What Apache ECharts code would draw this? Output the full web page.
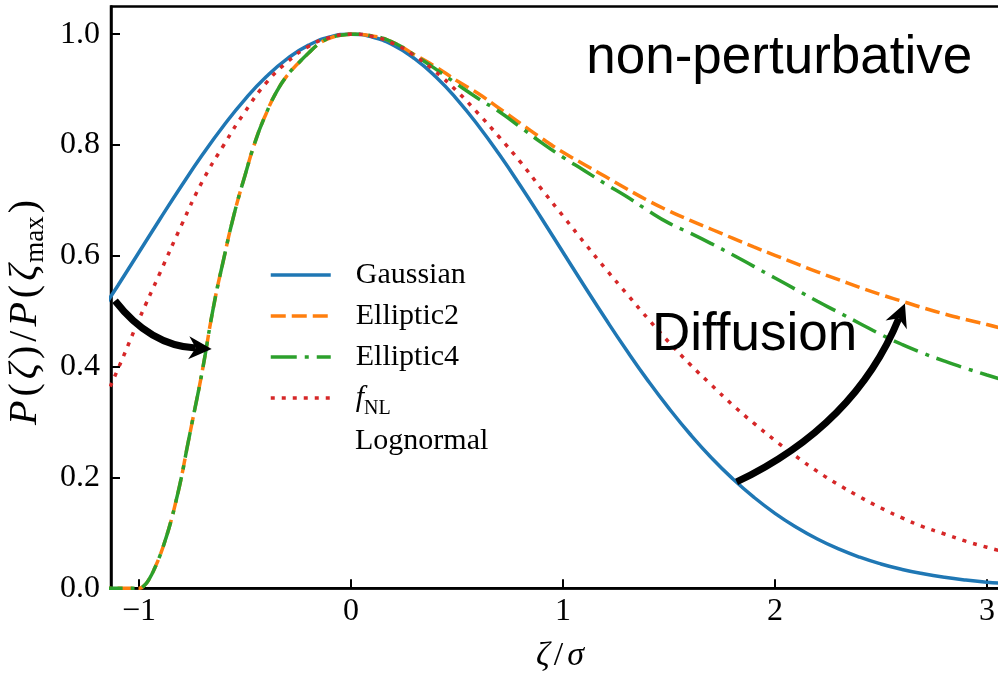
<!DOCTYPE html>
<html><head><meta charset="utf-8">
<script src="https://cdn.jsdelivr.net/npm/echarts@6/dist/echarts.min.js"></script>
<style>html,body{margin:0;padding:0;background:#fff}#c{width:998px;height:674px}</style>
</head><body><div id="c"></div>
<script>
// ---- data ----
const xGrid = [-1.2,-1.1,-1.0,-0.9,-0.8,-0.7,-0.6,-0.5,-0.4,-0.3,-0.2,-0.1,0,
  0.1,0.2,0.3,0.4,0.5,0.6,0.7,0.8,0.9,1.0,1.1,1.2,1.3,1.4,1.5,1.6,1.7,1.8,1.9,2.0,
  2.1,2.2,2.3,2.4,2.5,2.6,2.7,2.8,2.9,3.0,3.1];
const yGauss = [0.4868,0.5461,0.6065,0.6670,0.7261,0.7827,0.8353,0.8825,0.9231,0.9560,0.9802,0.9950,1.0,
  0.9950,0.9802,0.9560,0.9231,0.8825,0.8353,0.7827,0.7261,0.6670,0.6065,0.5461,0.4868,0.4296,0.3753,0.3247,
  0.2780,0.2357,0.1979,0.1645,0.1353,0.1103,0.0889,0.0710,0.0561,0.0439,0.0340,0.0261,0.0198,0.0149,0.0111,0.0082];
const yFnl = [0.31,0.395,0.485,0.57,0.655,0.735,0.80,0.86,0.912,0.95,0.978,0.994,1.0,
  0.996,0.983,0.961,0.932,0.897,0.857,0.814,0.769,0.72,0.672,0.624,0.577,0.532,0.487,0.444,
  0.404,0.367,0.331,0.298,0.267,0.238,0.211,0.187,0.165,0.145,0.127,0.111,0.098,0.085,0.074,0.064];
const xEll = [-1.2,-1.1,-1.05,-1.0,-0.975,-0.95,-0.925,-0.9,-0.875,-0.85,-0.825,-0.8,-0.775,-0.75,-0.7,-0.65,-0.6,-0.55,-0.5,
  -0.45,-0.4,-0.35,-0.3,-0.25,-0.2,-0.15,-0.1,-0.05,0,
  0.1,0.2,0.3,0.4,0.5,0.6,0.7,0.8,0.9,1.0,1.1,1.2,1.3,1.4,1.5,1.6,1.7,1.8,1.9,2.0,
  2.1,2.2,2.3,2.4,2.5,2.6,2.7,2.8,2.9,3.0,3.1];
const yEllLeft = [0,0,0,0,0.005,0.018,0.037,0.06,0.088,0.12,0.158,0.20,0.25,0.298,0.395,0.505,0.595,0.677,0.745,
  0.808,0.857,0.897,0.926,0.947,0.966,0.983,0.993,0.998,1.0];
const yEll2Right = [0.997,0.985,0.963,0.941,0.916,0.893,0.866,0.839,0.812,0.787,0.765,0.743,0.721,0.700,0.681,
  0.664,0.648,0.632,0.616,0.601,0.586,0.571,0.557,0.543,0.530,0.518,0.506,0.495,0.485,0.476,0.466];
const yEll4Right = [0.997,0.985,0.962,0.937,0.910,0.884,0.860,0.832,0.804,0.778,0.754,0.730,0.707,0.682,0.659,
  0.641,0.622,0.602,0.581,0.560,0.539,0.518,0.498,0.478,0.458,0.440,0.424,0.410,0.397,0.385,0.373];
const yEll2 = yEllLeft.concat(yEll2Right);
const yEll4 = yEllLeft.concat(yEll4Right);
const seriesNames = ['Gaussian','Elliptic2','Elliptic4','fNL'];
const xTicks = [-1,0,1,2,3];
const yTicks = [0,0.2,0.4,0.6,0.8,1.0];
const xRange = [-1.132,3.104];
const yRange = [0,1.05];
// annotation anchors (data coordinates)
const arrowLeft = {from:[-1.113,0.519], ctrl:[-0.948,0.438], to:[-0.657,0.432]};
const arrowRight = {from:[1.819,0.192], ctrl:[2.377,0.294], to:[2.613,0.514]};
const textNP = {text:'non-perturbative', at:[1.11,0.957]};
const textDiff = {text:'Diffusion', at:[1.42,0.456]};

// ---- chart ----
const serif = "'Liberation Serif','Times New Roman',serif";
const sans = "'Liberation Sans',Arial,sans-serif";
const pairs = (xs, ys) => xs.map((x, i) => [x, ys[i]]);
const chart = echarts.init(document.getElementById('c'));
const common = {type:'line', showSymbol:false, symbol:'none', smooth:0.5, clip:true, animation:false};
const mi = (fs, lh, pad) => ({fontFamily:serif, fontStyle:'italic', fontSize:fs, lineHeight:lh, color:'#000', padding:[0,pad,0,pad]});
const mn = (fs, lh, pad) => ({fontFamily:serif, fontSize:fs, lineHeight:lh, color:'#000', padding:[0,pad,0,pad]});
const option = {
  backgroundColor:'#fff',
  animation:false,
  grid:{left:111, top:6.5, width:898, height:581.8, show:true, borderColor:'#000', borderWidth:2.5,
    backgroundColor:'transparent', containLabel:false, outerBoundsMode:'none'},
  xAxis:{type:'value', min:xRange[0], max:xRange[1],
    name:'{i|ζ}{n|/}{i|σ}', nameLocation:'middle', nameGap:51,
    nameTextStyle:{rich:{i:mi(34, 34, 2), n:mn(34, 34, 2)}},
    axisLine:{onZero:false, lineStyle:{color:'#000', width:2.5}},
    axisTick:{inside:true, length:9, customValues:xTicks, lineStyle:{color:'#000', width:2}},
    axisLabel:{customValues:xTicks, margin:7, fontFamily:serif, fontSize:32, color:'#000',
      formatter:v => v < 0 ? '\u2212' + Math.abs(v) : String(v)},
    splitLine:{show:false}},
  yAxis:{type:'value', min:yRange[0], max:yRange[1],
    name:'{i|P}{n|(}{i|ζ}{n|)}{n|/}{i|P}{n|(}{i|ζ}{s|max}{n|)}', nameLocation:'middle', nameGap:60,
    nameTextStyle:{padding:[0,30,0,0], rich:{
      i:mi(40, 48, 2), n:mn(40, 48, 2),
      s:{fontFamily:serif, fontSize:27, lineHeight:26, verticalAlign:'bottom', color:'#000', padding:[0,1,0,0]}}},
    axisLine:{onZero:false, lineStyle:{color:'#000', width:2.5}},
    axisTick:{inside:true, length:9, customValues:yTicks, lineStyle:{color:'#000', width:2}},
    axisLabel:{customValues:yTicks, margin:11, fontFamily:serif, fontSize:32, color:'#000',
      formatter:v => v.toFixed(1)},
    splitLine:{show:false}},
  legend:{orient:'vertical', left:269, top:254.5, padding:0, itemWidth:60, itemHeight:14, itemGap:0,
    selectedMode:false, data:seriesNames,
    itemStyle:{color:'rgba(0,0,0,0)', borderWidth:0, opacity:0},
    lineStyle:{width:3.5},
    formatter:n => n === 'fNL' ? '{fi|f}{fs|NL}' : n,
    textStyle:{fontFamily:serif, fontSize:30, lineHeight:41, color:'#000', padding:[0,0,0,20],
      rich:{fi:{fontFamily:serif, fontStyle:'italic', fontSize:30, lineHeight:41, color:'#000'},
            fs:{fontFamily:serif, fontSize:20, lineHeight:18, verticalAlign:'bottom', color:'#000'}}}},
  series:[
    Object.assign({}, common, {name:seriesNames[0], data:pairs(xGrid, yGauss), itemStyle:{color:'#1f77b4'},
      lineStyle:{color:'#1f77b4', width:3.5, type:'solid'}}),
    Object.assign({}, common, {name:seriesNames[1], data:pairs(xEll, yEll2), itemStyle:{color:'#ff7f0e'},
      lineStyle:{color:'#ff7f0e', width:3.5, type:[15,6], cap:'butt'}}),
    Object.assign({}, common, {name:seriesNames[2], data:pairs(xEll, yEll4), itemStyle:{color:'#2ca02c'},
      lineStyle:{color:'#2ca02c', width:3.5, type:[26,8,4,8], cap:'butt'}}),
    Object.assign({}, common, {name:seriesNames[3], data:pairs(xGrid, yFnl), itemStyle:{color:'#d62728'},
      lineStyle:{color:'#d62728', width:3.5, type:[4,7], cap:'butt'}})
  ]
};
chart.setOption(option);

function px(p){ return chart.convertToPixel({gridIndex:0}, p); }
function arrow(a){
  const s = px(a.from), c = px(a.ctrl), t = px(a.to);
  let dx = t[0]-c[0], dy = t[1]-c[1];
  const L = Math.hypot(dx, dy); dx /= L; dy /= L;
  const HL = 23, HW = 11.5, N = 7;
  const nx = -dy, ny = dx;
  const e = [t[0]-dx*(HL-N), t[1]-dy*(HL-N)];
  const b = [t[0]-dx*HL, t[1]-dy*HL];
  return [
    {type:'bezierCurve', z:100, shape:{x1:s[0], y1:s[1], cpx1:c[0], cpy1:c[1], x2:e[0], y2:e[1]},
      style:{stroke:'#000', lineWidth:7, fill:'none', lineCap:'butt'}},
    {type:'polygon', z:101, shape:{points:[t, [b[0]+nx*HW, b[1]+ny*HW], e, [b[0]-nx*HW, b[1]-ny*HW]]},
      style:{fill:'#000', stroke:'none'}}
  ];
}
function label(tx){
  const p = px(tx.at);
  return {type:'text', z:102, x:p[0], y:p[1], style:{text:tx.text, fontFamily:sans, fontSize:53, fill:'#000', align:'left', verticalAlign:'middle'}};
}
chart.setOption({graphic:[
  ...arrow(arrowLeft), ...arrow(arrowRight), label(textNP), label(textDiff),
  {type:'text', z:102, x:355, y:441, style:{text:'Lognormal', fontFamily:serif, fontSize:30, fill:'#000', align:'left', verticalAlign:'middle'}}
]});
</script></body></html>
